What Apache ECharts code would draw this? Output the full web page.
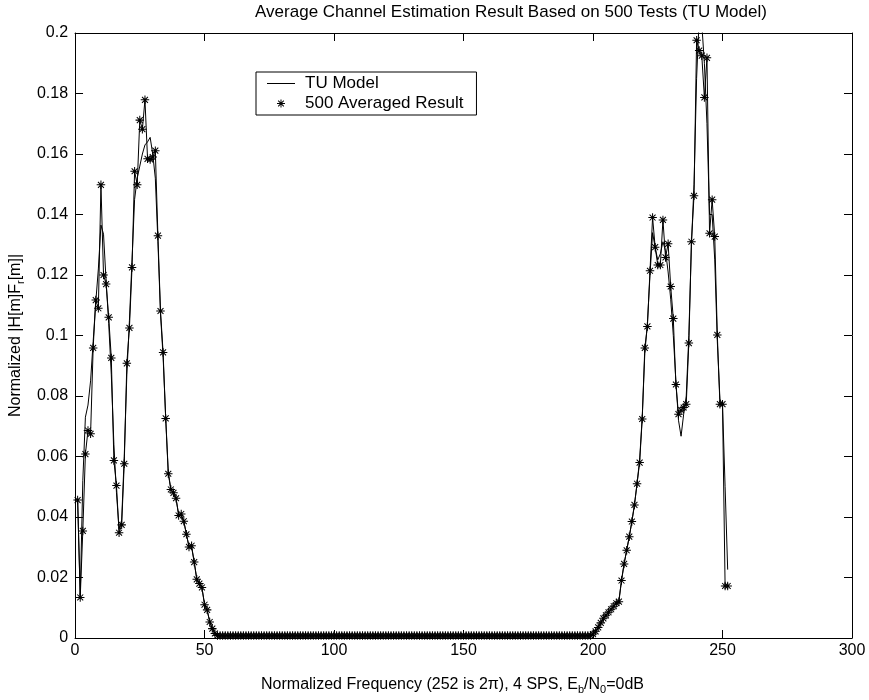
<!DOCTYPE html>
<html>
<head>
<meta charset="utf-8">
<title>Average Channel Estimation</title>
<script src="https://cdn.jsdelivr.net/npm/echarts@6/dist/echarts.min.js"></script>
<style>
html,body{margin:0;padding:0;background:#fff;}
#main{width:869px;height:700px;}
</style>
</head>
<body>
<div id="main"></div>
<script>
// axis ticks
var xTicks = [0, 50, 100, 150, 200, 250, 300];
var yTicks = [0, 0.02, 0.04, 0.06, 0.08, 0.1, 0.12, 0.14, 0.16, 0.18, 0.2];

var seriesNames = ['TU Model', '500 Averaged Result'];

// 500 averaged result, frequency index 1..252
var avgValues = [
	0.0456, 0.0134, 0.0354, 0.0608, 0.0686, 0.0675, 0.0959, 0.1117, 0.1090, 0.1498,
	0.1200, 0.1170, 0.1060, 0.0926, 0.0587, 0.0504, 0.0348, 0.0374, 0.0576, 0.0908,
	0.1025, 0.1225, 0.1543, 0.1498, 0.1712, 0.1682, 0.1779, 0.1584, 0.1582, 0.1590,
	0.1611, 0.1330, 0.1081, 0.0944, 0.0726, 0.0543, 0.0491, 0.0480, 0.0462, 0.0405,
	0.0410, 0.0386, 0.0343, 0.0301, 0.0305, 0.0251, 0.0194, 0.0180, 0.0167, 0.0110,
	0.0093, 0.0053, 0.0031, 0.0015,
	0.0008, 0.0008, 0.0008, 0.0008, 0.0008, 0.0008, 0.0008, 0.0008, 0.0008, 0.0008,
	0.0008, 0.0008, 0.0008, 0.0008, 0.0008, 0.0008, 0.0008, 0.0008, 0.0008, 0.0008,
	0.0008, 0.0008, 0.0008, 0.0008, 0.0008, 0.0008, 0.0008, 0.0008, 0.0008, 0.0008,
	0.0008, 0.0008, 0.0008, 0.0008, 0.0008, 0.0008, 0.0008, 0.0008, 0.0008, 0.0008,
	0.0008, 0.0008, 0.0008, 0.0008, 0.0008, 0.0008, 0.0008, 0.0008, 0.0008, 0.0008,
	0.0008, 0.0008, 0.0008, 0.0008, 0.0008, 0.0008, 0.0008, 0.0008, 0.0008, 0.0008,
	0.0008, 0.0008, 0.0008, 0.0008, 0.0008, 0.0008, 0.0008, 0.0008, 0.0008, 0.0008,
	0.0008, 0.0008, 0.0008, 0.0008, 0.0008, 0.0008, 0.0008, 0.0008, 0.0008, 0.0008,
	0.0008, 0.0008, 0.0008, 0.0008, 0.0008, 0.0008, 0.0008, 0.0008, 0.0008, 0.0008,
	0.0008, 0.0008, 0.0008, 0.0008, 0.0008, 0.0008, 0.0008, 0.0008, 0.0008, 0.0008,
	0.0008, 0.0008, 0.0008, 0.0008, 0.0008, 0.0008, 0.0008, 0.0008, 0.0008, 0.0008,
	0.0008, 0.0008, 0.0008, 0.0008, 0.0008, 0.0008, 0.0008, 0.0008, 0.0008, 0.0008,
	0.0008, 0.0008, 0.0008, 0.0008, 0.0008, 0.0008, 0.0008, 0.0008, 0.0008, 0.0008,
	0.0008, 0.0008, 0.0008, 0.0008, 0.0008, 0.0008, 0.0008, 0.0008, 0.0008, 0.0008,
	0.0008, 0.0008, 0.0008, 0.0008, 0.0008,
	0.0013, 0.0022, 0.0035, 0.0050, 0.0065, 0.0075, 0.0085, 0.0095, 0.0105, 0.0115,
	0.0120, 0.0190, 0.0245, 0.0290, 0.0335, 0.0385, 0.0440, 0.0510, 0.0580, 0.0724,
	0.0959, 0.1030, 0.1214, 0.1390, 0.1292, 0.1233, 0.1233, 0.1382, 0.1258, 0.1303,
	0.1162, 0.1056, 0.0838, 0.0740, 0.0753, 0.0762, 0.0773, 0.0975, 0.1310, 0.1462,
	0.1976, 0.1942, 0.1925, 0.1787, 0.1918, 0.1338, 0.1449, 0.1327, 0.1002, 0.0773,
	0.0773, 0.0172, 0.0172
];

// TU model (true channel), frequency index 1..252
var tuValues = [
	0.0460, 0.0140, 0.0520, 0.0730, 0.0770, 0.0850, 0.0980, 0.1110, 0.1220, 0.1365,
	0.1335, 0.1180, 0.1040, 0.0870, 0.0640, 0.0480, 0.0360, 0.0390, 0.0600, 0.0870,
	0.1050, 0.1250, 0.1450, 0.1520, 0.1560, 0.1600, 0.1630, 0.1640, 0.1655, 0.1600,
	0.1520, 0.1310, 0.1070, 0.0930, 0.0730, 0.0550, 0.0490, 0.0480, 0.0460, 0.0410,
	0.0405, 0.0385, 0.0343, 0.0303, 0.0300, 0.0252, 0.0196, 0.0180, 0.0165, 0.0112,
	0.0092, 0.0055, 0.0031, 0.0015,
	0.0008, 0.0008, 0.0008, 0.0008, 0.0008, 0.0008, 0.0008, 0.0008, 0.0008, 0.0008,
	0.0008, 0.0008, 0.0008, 0.0008, 0.0008, 0.0008, 0.0008, 0.0008, 0.0008, 0.0008,
	0.0008, 0.0008, 0.0008, 0.0008, 0.0008, 0.0008, 0.0008, 0.0008, 0.0008, 0.0008,
	0.0008, 0.0008, 0.0008, 0.0008, 0.0008, 0.0008, 0.0008, 0.0008, 0.0008, 0.0008,
	0.0008, 0.0008, 0.0008, 0.0008, 0.0008, 0.0008, 0.0008, 0.0008, 0.0008, 0.0008,
	0.0008, 0.0008, 0.0008, 0.0008, 0.0008, 0.0008, 0.0008, 0.0008, 0.0008, 0.0008,
	0.0008, 0.0008, 0.0008, 0.0008, 0.0008, 0.0008, 0.0008, 0.0008, 0.0008, 0.0008,
	0.0008, 0.0008, 0.0008, 0.0008, 0.0008, 0.0008, 0.0008, 0.0008, 0.0008, 0.0008,
	0.0008, 0.0008, 0.0008, 0.0008, 0.0008, 0.0008, 0.0008, 0.0008, 0.0008, 0.0008,
	0.0008, 0.0008, 0.0008, 0.0008, 0.0008, 0.0008, 0.0008, 0.0008, 0.0008, 0.0008,
	0.0008, 0.0008, 0.0008, 0.0008, 0.0008, 0.0008, 0.0008, 0.0008, 0.0008, 0.0008,
	0.0008, 0.0008, 0.0008, 0.0008, 0.0008, 0.0008, 0.0008, 0.0008, 0.0008, 0.0008,
	0.0008, 0.0008, 0.0008, 0.0008, 0.0008, 0.0008, 0.0008, 0.0008, 0.0008, 0.0008,
	0.0008, 0.0008, 0.0008, 0.0008, 0.0008, 0.0008, 0.0008, 0.0008, 0.0008, 0.0008,
	0.0008, 0.0008, 0.0008, 0.0008, 0.0008,
	0.0012, 0.0022, 0.0035, 0.0050, 0.0065, 0.0075, 0.0085, 0.0095, 0.0105, 0.0115,
	0.0125, 0.0190, 0.0245, 0.0290, 0.0335, 0.0385, 0.0440, 0.0510, 0.0590, 0.0730,
	0.0940, 0.1040, 0.1200, 0.1340, 0.1290, 0.1250, 0.1270, 0.1310, 0.1280, 0.1210,
	0.1120, 0.1000, 0.0850, 0.0720, 0.0667, 0.0740, 0.0800, 0.1000, 0.1300, 0.1500,
	0.1850, 0.2050, 0.2030, 0.1900, 0.1700, 0.1400, 0.1400, 0.1250, 0.0980, 0.0790,
	0.0770, 0.0500, 0.0226
];

var FONT = '"Liberation Sans", Arial, Helvetica, sans-serif';

var chart = {
	init : function(){
		var myChart = echarts.init(document.getElementById('main'), null, {renderer: 'canvas'});
		myChart.setOption(chart.options());
	},

	// pairs of [frequency index, value]
	pairs : function(values){
		var out = [];
		for (var i = 0; i < values.length; i++) {
			out.push([i + 1, values[i]]);
		}
		return out;
	},

	// MATLAB style asterisk built from four thin bars
	star : 'path://M-1,-0.12L1,-0.12L1,0.12L-1,0.12Z' +
		'M-0.12,-1L0.12,-1L0.12,1L-0.12,1Z' +
		'M-0.615,-0.785L0.785,0.615L0.615,0.785L-0.785,-0.615Z' +
		'M0.615,-0.785L0.785,-0.615L-0.615,0.785L-0.785,0.615Z',

	// plain line sample for the legend
	lineIcon : 'path://M0,0L28,0L28,1L0,1Z',

	xAxisBase : function(pos, showLabel){
		return {
			type: 'value',
			position: pos,
			min: xTicks[0],
			max: xTicks[xTicks.length - 1],
			interval: xTicks[1] - xTicks[0],
			axisLine: {show: true, onZero: false, lineStyle: {color: '#000', width: 1}},
			axisTick: {show: true, inside: true, length: 8, lineStyle: {color: '#000'}},
			axisLabel: {show: showLabel, color: '#000', fontSize: 16, fontFamily: FONT, margin: 5},
			splitLine: {show: false}
		};
	},

	yAxisBase : function(pos, showLabel){
		return {
			type: 'value',
			position: pos,
			min: yTicks[0],
			max: yTicks[yTicks.length - 1],
			interval: yTicks[1] - yTicks[0],
			axisLine: {show: true, onZero: false, lineStyle: {color: '#000', width: 1}},
			axisTick: {show: true, inside: true, length: 8, lineStyle: {color: '#000'}},
			axisLabel: {show: showLabel, color: '#000', fontSize: 16, fontFamily: FONT, margin: 7},
			splitLine: {show: false}
		};
	},

	options : function(){
		var xBottom = chart.xAxisBase('bottom', true);
		xBottom.name = '{a|Normalized Frequency (252 is 2\u03c0), 4 SPS, E}{s|b}{a|/N}{s|0}{a|=0dB}';
		xBottom.nameLocation = 'middle';
		xBottom.nameGap = 37;
		xBottom.nameTextStyle = {
			padding: [0, 22, 0, 0],
			rich: {
				a: {fontSize: 16, fontFamily: FONT, color: '#000', lineHeight: 20, verticalAlign: 'middle'},
				s: {fontSize: 11, fontFamily: FONT, color: '#000', lineHeight: 20, verticalAlign: 'bottom'}
			}
		};

		var yLeft = chart.yAxisBase('left', true);
		yLeft.name = '{a|Normalized |H[m]F}{s|r}{a|[m]|}';
		yLeft.nameLocation = 'middle';
		yLeft.nameGap = 47;
		yLeft.nameTextStyle = {
			rich: {
				a: {fontSize: 16, fontFamily: FONT, color: '#000', lineHeight: 20, verticalAlign: 'middle'},
				s: {fontSize: 11, fontFamily: FONT, color: '#000', lineHeight: 20, verticalAlign: 'bottom'}
			}
		};

		var option = {
			backgroundColor: '#fff',
			animation: false,
			grid: {left: 73, right: 17, top: 33, bottom: 52, containLabel: false},
			graphic: [{
				type: 'text',
				x: 511,
				y: 4,
				style: {
					text: 'Average Channel Estimation Result Based on 500 Tests (TU Model)',
					fill: '#000',
					font: '17px ' + FONT,
					align: 'center',
					verticalAlign: 'top'
				}
			}],
			legend: {
				data: [
					{name: seriesNames[0], icon: chart.lineIcon},
					{name: seriesNames[1]}
				],
				orient: 'vertical',
				left: 256,
				top: 72,
				padding: [3, 13, 3, 11],
				itemGap: 3,
				itemWidth: 28,
				itemHeight: 8,
				backgroundColor: '#fff',
				borderColor: '#000',
				borderWidth: 1,
				borderRadius: 0,
				textStyle: {color: '#000', fontSize: 17, fontFamily: FONT, lineHeight: 16, padding: [0, 0, 0, 5]}
			},
			xAxis: [xBottom, chart.xAxisBase('top', false)],
			yAxis: [yLeft, chart.yAxisBase('right', false)],
			series: [
				{
					name: seriesNames[0],
					type: 'line',
					data: chart.pairs(tuValues),
					symbol: 'none',
					clip: true,
					lineStyle: {color: '#000', width: 1},
					itemStyle: {color: '#000'},
					z: 3
				},
				{
					name: 'avgLine',
					type: 'line',
					data: chart.pairs(avgValues),
					symbol: 'none',
					clip: true,
					lineStyle: {color: '#000', width: 1},
					z: 2
				},
				{
					name: seriesNames[1],
					type: 'scatter',
					data: chart.pairs(avgValues),
					symbol: chart.star,
					symbolSize: 8.5,
					clip: true,
					itemStyle: {color: '#000', opacity: 1},
					z: 4
				}
			]
		};
		return option;
	}
};

chart.init();
</script>
</body>
</html>
